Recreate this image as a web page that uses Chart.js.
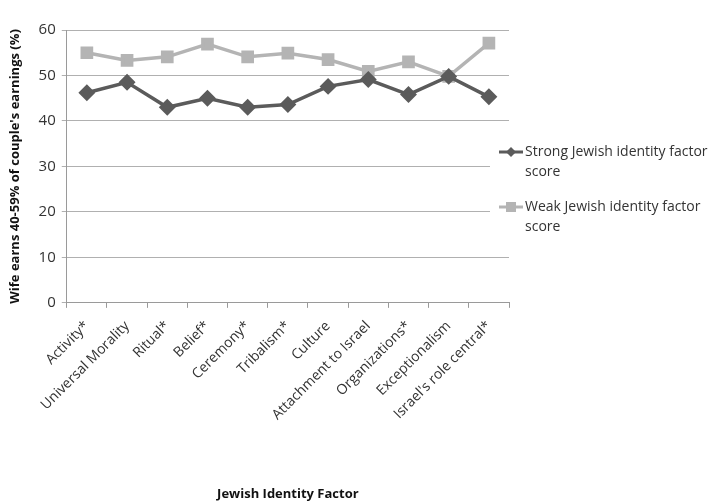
<!DOCTYPE html>
<html>
<head>
<meta charset="utf-8">
<script src="https://cdn.jsdelivr.net/npm/chart.js@4.4.1/dist/chart.umd.min.js"></script>
<style>
  html, body { margin: 0; padding: 0; background: #fff; }
  #wrap { width: 713px; height: 502px; }
</style>
</head>
<body>
<div id="wrap"><canvas id="chart"></canvas></div>
<script>
const factors = [
  'Activity*', 'Universal Morality', 'Ritual*', 'Belief*', 'Ceremony*', 'Tribalism*',
  'Culture', 'Attachment to Israel', 'Organizations*', 'Exceptionalism', "Israel's role central*"
];
const strongScores = [46.2, 48.5, 43.0, 45.0, 43.0, 43.6, 47.6, 49.1, 45.8, 49.8, 45.3];
const weakScores = [55.0, 53.3, 54.1, 56.9, 54.1, 54.9, 53.5, 50.9, 53.0, 49.8, 57.1];
const seriesNames = [
  ['Strong Jewish identity factor', 'score'],
  ['Weak Jewish identity factor', 'score']
];
const yTicks = [0, 10, 20, 30, 40, 50, 60];

const FONT = '"Open Sans", "Liberation Sans", sans-serif';
const TEXT = '#333333';
const STRONG = '#5b5b5b';
const WEAK = '#b4b4b4';

// legend drawn by hand so the labels can wrap like the original
const sideLegend = {
  id: 'sideLegend',
  afterDraw(chart) {
    const ctx = chart.ctx;
    const area = chart.chartArea;
    const x0 = area.right - 19;
    ctx.save();
    ctx.fillStyle = '#ffffff';
    ctx.fillRect(x0, 135, chart.width - x0, 100);
    ctx.font = '14px ' + FONT;
    ctx.textBaseline = 'middle';
    chart.data.datasets.forEach((ds, i) => {
      const y = 152 + i * 55;
      ctx.strokeStyle = ds.borderColor;
      ctx.lineWidth = 3;
      ctx.beginPath();
      ctx.moveTo(x0 + 9, y);
      ctx.lineTo(x0 + 33, y);
      ctx.stroke();
      ctx.fillStyle = ds.backgroundColor;
      const cx = x0 + 21;
      if (ds.pointStyle === 'rect') {
        ctx.fillRect(cx - 5, y - 5, 10, 10);
      } else {
        ctx.beginPath();
        ctx.moveTo(cx, y - 5);
        ctx.lineTo(cx + 5, y);
        ctx.lineTo(cx, y + 5);
        ctx.lineTo(cx - 5, y);
        ctx.closePath();
        ctx.fill();
      }
      ctx.fillStyle = TEXT;
      seriesNames[i].forEach((line, j) => {
        ctx.fillText(line, x0 + 35, y + j * 20);
      });
    });
    ctx.restore();
  }
};

new Chart(document.getElementById('chart'), {
  type: 'line',
  data: {
    labels: factors,
    datasets: [
      {
        label: seriesNames[0].join(' '),
        data: strongScores,
        borderColor: STRONG,
        backgroundColor: STRONG,
        borderWidth: 3.5,
        pointStyle: 'rectRot',
        pointRadius: 6,
        pointHoverRadius: 6,
        tension: 0
      },
      {
        label: seriesNames[1].join(' '),
        data: weakScores,
        borderColor: WEAK,
        backgroundColor: WEAK,
        borderWidth: 3.5,
        pointStyle: 'rect',
        pointRadius: 6.5,
        pointHoverRadius: 6.5,
        tension: 0
      }
    ]
  },
  options: {
    responsive: true,
    maintainAspectRatio: false,
    animation: false,
    layout: { padding: { top: 30, right: 204, left: 7, bottom: 0 } },
    plugins: {
      legend: { display: false },
      tooltip: { enabled: false }
    },
    scales: {
      x: {
        offset: true,
        grid: {
          offset: true,
          drawOnChartArea: false,
          drawTicks: true,
          tickLength: 5,
          color: '#9a9a9a'
        },
        border: { color: '#9a9a9a' },
        ticks: {
          color: TEXT,
          font: { family: FONT, size: 14 },
          minRotation: 45,
          maxRotation: 45,
          autoSkip: false,
          padding: 10
        },
        title: {
          display: true,
          text: 'Jewish Identity Factor',
          color: '#111',
          font: { family: FONT, size: 13, weight: 'bold' },
          padding: { top: 53, bottom: 0 }
        }
      },
      y: {
        min: 0,
        max: 60,
        afterBuildTicks: (scale) => {
          scale.ticks = yTicks.map(v => ({ value: v }));
        },
        grid: {
          color: '#b0b0b0',
          tickLength: 5
        },
        border: { color: '#9a9a9a' },
        ticks: {
          color: TEXT,
          font: { family: FONT, size: 15 },
          padding: 6
        },
        title: {
          display: true,
          text: "Wife earns 40-59% of couple's earnings (%)",
          color: '#111',
          font: { family: FONT, size: 13, weight: 'bold' },
          padding: { top: 0, bottom: 10 }
        }
      }
    }
  },
  plugins: [sideLegend]
});
</script>
</body>
</html>
